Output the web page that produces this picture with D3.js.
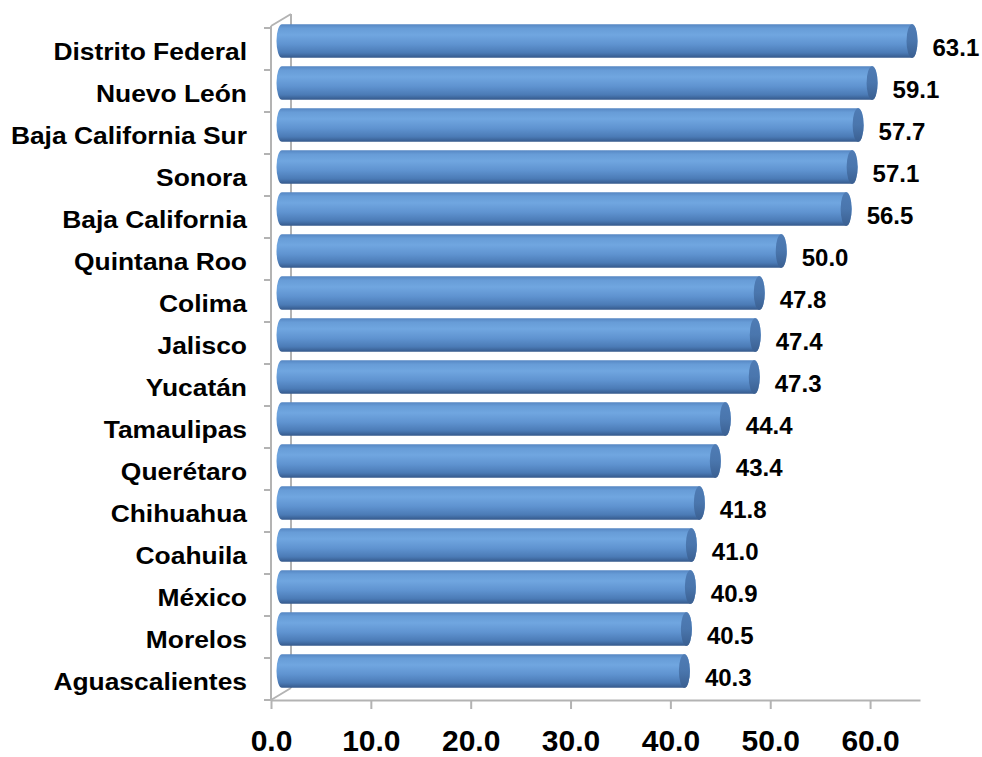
<!DOCTYPE html>
<html>
<head>
<meta charset="utf-8">
<script src="https://cdn.jsdelivr.net/npm/d3@7/dist/d3.min.js"></script>
<style>
  body { margin: 0; background: #fff; }
  svg { display: block; font-family: "Liberation Sans", Arial, sans-serif; font-weight: bold; }
</style>
</head>
<body>
<div id="chart"></div>
<script>
// data
var states = ["Distrito Federal", "Nuevo León", "Baja California Sur", "Sonora", "Baja California",
  "Quintana Roo", "Colima", "Jalisco", "Yucatán", "Tamaulipas", "Querétaro", "Chihuahua",
  "Coahuila", "México", "Morelos", "Aguascalientes"];
var values = [63.1, 59.1, 57.7, 57.1, 56.5, 50.0, 47.8, 47.4, 47.3, 44.4, 43.4, 41.8, 41.0, 40.9, 40.5, 40.3];
var xTicks = [0, 10, 20, 30, 40, 50, 60];

var rows = states.map(function(s, i) { return {state: s, value: values[i]}; });

// dimensions
var width = 982, height = 757;
var depthX = 20, depthY = 12;   // 3d depth of the plot box
var capRx = 5.5;

var svg = d3.select("#chart").append("svg")
    .attr("width", width)
    .attr("height", height);

var x = d3.scaleLinear().domain([0, 65]).range([271, 920]);
var y = d3.scaleBand().domain(states).range([28, 700]).paddingInner(0.2).paddingOuter(0.1);

// gradients for the cylinders
var defs = svg.append("defs");
var g1 = defs.append("linearGradient").attr("id", "body").attr("x1", 0).attr("y1", 0).attr("x2", 0).attr("y2", 1);
[[0, "#5586c2"], [0.12, "#679cd7"], [0.32, "#70a6e0"], [0.6, "#5f93d0"], [0.85, "#4b7bb6"], [1, "#35598b"]]
  .forEach(function(s) { g1.append("stop").attr("offset", s[0]).attr("stop-color", s[1]); });
var g2 = defs.append("linearGradient").attr("id", "cap").attr("x1", 0).attr("y1", 0).attr("x2", 0).attr("y2", 1);
[[0, "#4f7cb5"], [0.5, "#4a76ad"], [1, "#3a5f91"]]
  .forEach(function(s) { g2.append("stop").attr("offset", s[0]).attr("stop-color", s[1]); });

var axisColor = "#b3b3b3";
var x0 = x.range()[0], yTop = y.range()[0] - 2, yBot = y.range()[1];

// 3d box lines
var box = svg.append("g").attr("stroke", axisColor).attr("stroke-width", 2).attr("fill", "none");
box.append("line").attr("x1", x0 + depthX).attr("y1", yTop - depthY).attr("x2", x0 + depthX).attr("y2", yBot - depthY);
box.append("line").attr("x1", x0).attr("y1", yTop).attr("x2", x0 + depthX).attr("y2", yTop - depthY);
box.append("line").attr("x1", x0).attr("y1", yBot).attr("x2", x0 + depthX).attr("y2", yBot - depthY);
box.append("line").attr("x1", x0).attr("y1", yTop).attr("x2", x0).attr("y2", yBot);

// y ticks at band boundaries
var step = y.step();
var bounds = states.map(function(s) { return y(s) - (step - y.bandwidth()) / 2; });
bounds.push(yBot);
box.selectAll(".ytick").data(bounds).enter().append("line")
    .attr("x1", x0 - 7).attr("x2", x0)
    .attr("y1", function(d) { return d; }).attr("y2", function(d) { return d; });

// x axis
var xAxis = svg.append("g")
    .attr("transform", "translate(0," + yBot + ")")
    .call(d3.axisBottom(x).tickValues(xTicks).tickSize(9).tickSizeOuter(0).tickPadding(21)
      .tickFormat(d3.format(".1f")));
xAxis.select(".domain").attr("stroke", axisColor).attr("stroke-width", 2);
xAxis.selectAll(".tick line").attr("stroke", axisColor).attr("stroke-width", 2);
xAxis.selectAll(".tick text").attr("fill", "#000").style("font-size", "30px").style("font-weight", "bold")
    .attr("font-family", null);

// category labels
svg.append("g").selectAll("text").data(rows).enter().append("text")
    .attr("transform", function(d) { return "translate(247," + (y(d.state) + y.bandwidth() / 2 + 2) + ") scale(1.1,1)"; })
    .attr("text-anchor", "end")
    .attr("dominant-baseline", "central")
    .style("font-size", "24px")
    .text(function(d) { return d.state; });

// cylinders
var offX = 11, offY = -8;
var bars = svg.append("g").selectAll("g").data(rows).enter().append("g");
bars.append("path")
    .attr("fill", "url(#body)")
    .attr("d", function(d) {
      var a = x(0) + offX, b = x(d.value) + offX;
      var h = y.bandwidth(), t = y(d.state) + offY, btm = t + h, ry = h / 2;
      return "M" + a + "," + t + "L" + b + "," + t +
        "A" + capRx + "," + ry + " 0 0 1 " + b + "," + btm +
        "L" + a + "," + btm +
        "A" + capRx + "," + ry + " 0 0 1 " + a + "," + t + "Z";
    });
bars.append("ellipse")
    .attr("fill", "url(#cap)")
    .attr("cx", function(d) { return x(d.value) + offX; })
    .attr("cy", function(d) { return y(d.state) + offY + y.bandwidth() / 2; })
    .attr("rx", capRx)
    .attr("ry", y.bandwidth() / 2);

// value labels
svg.append("g").selectAll("text").data(rows).enter().append("text")
    .attr("x", function(d) { return x(d.value) + offX + capRx + 15; })
    .attr("y", function(d) { return y(d.state) + y.bandwidth() / 2 - 2; })
    .attr("dominant-baseline", "central")
    .style("font-size", "24px")
    .text(function(d) { return d3.format(".1f")(d.value); });
</script>
</body>
</html>
